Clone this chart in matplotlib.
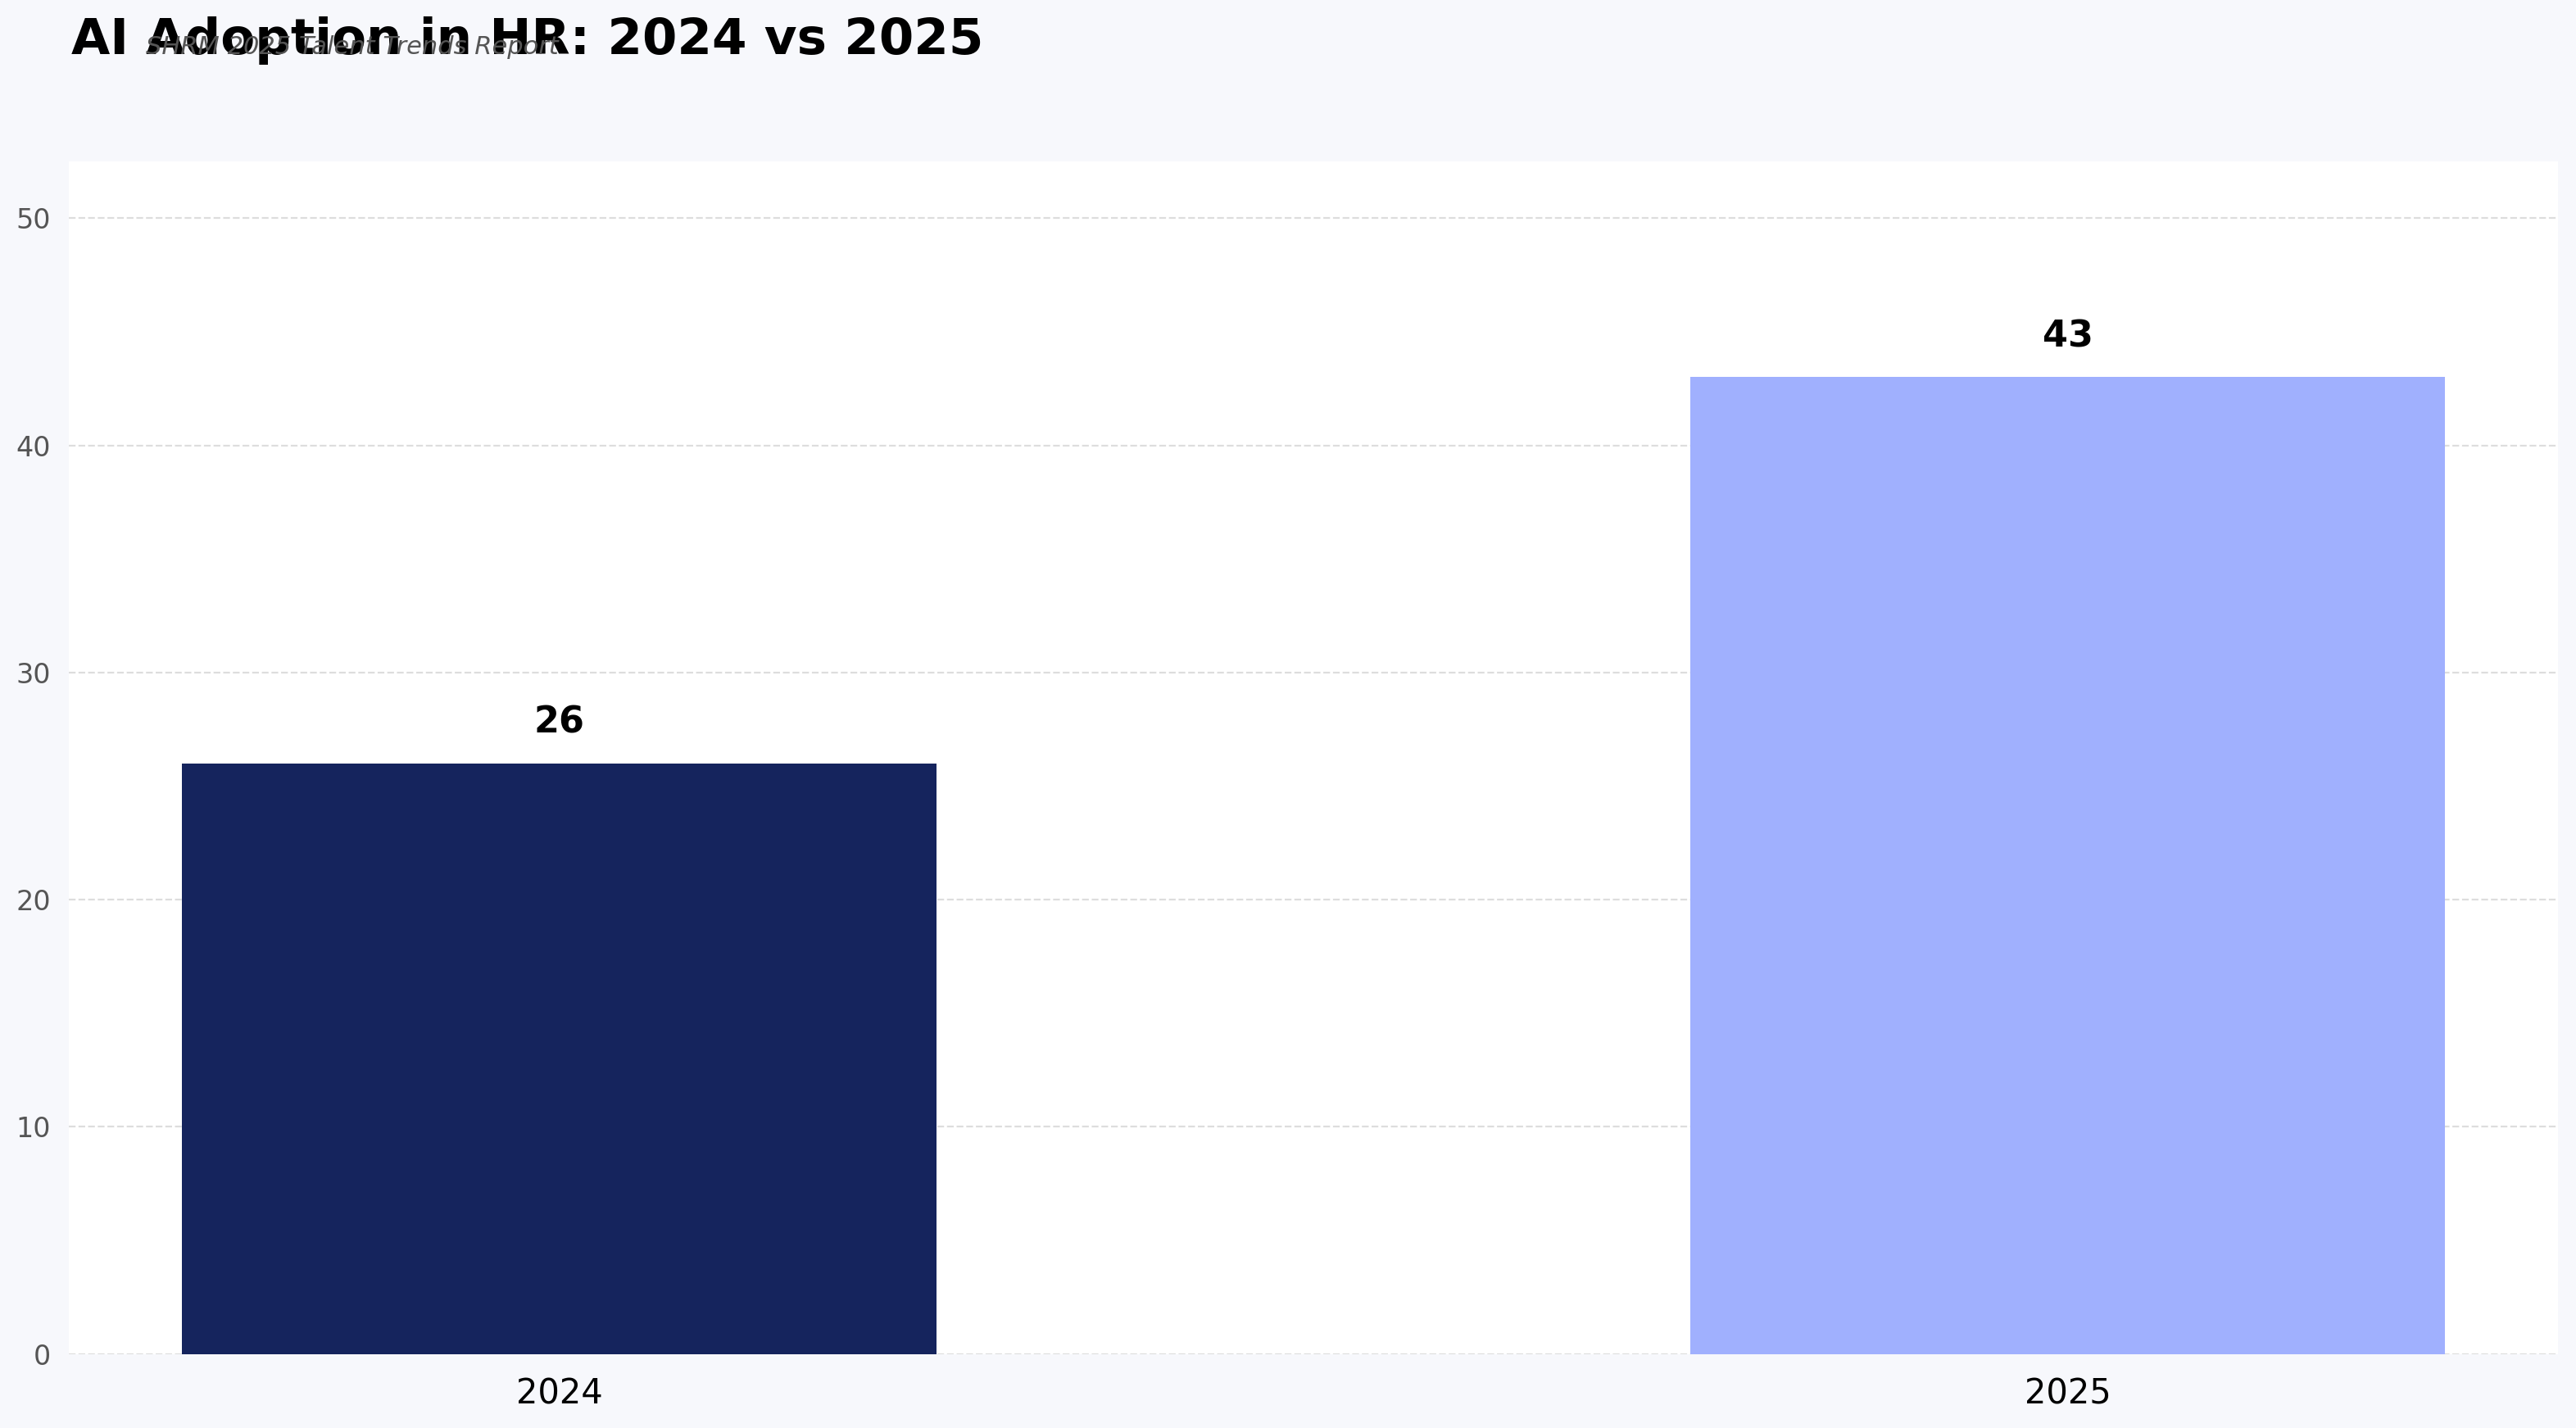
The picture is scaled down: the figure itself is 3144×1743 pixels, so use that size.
import matplotlib
matplotlib.use("Agg")
import matplotlib.pyplot as plt

# data
years = ["2024", "2025"]
adoption = [26, 43]
bar_colors = ["#15245d", "#a0b0fe"]

title = "AI Adoption in HR: 2024 vs 2025"
subtitle = "SHRM 2025 Talent Trends Report"

fig = plt.figure(figsize=(15.72, 8.715), dpi=200)
fig.patch.set_facecolor("#f7f8fc")
ax = fig.add_axes([0.0268, 0.0518, 0.9662, 0.8352])
ax.set_facecolor("white")

x = list(range(len(years)))
bars = ax.bar(x, adoption, width=0.5, color=bar_colors, zorder=3)

for xi, v in zip(x, adoption):
	ax.annotate(str(v), (xi, v), xytext=(0, 10), textcoords="offset points",
		ha="center", va="bottom", fontsize=16, fontweight="bold", color="black")

ax.set_xticks(x)
ax.set_xticklabels(years, fontsize=15)
ax.set_ylim(0, 52.5)
ax.set_yticks(range(0, 51, 10))
ax.tick_params(axis="y", labelsize=12, labelcolor="#555555", length=0, pad=8)
ax.tick_params(axis="x", length=0, pad=10)
ax.grid(axis="y", linestyle="--", color="#dddddd", linewidth=0.8, zorder=0)
for s in ax.spines.values():
	s.set_visible(False)

fig.text(0.0277, 0.962, title, fontsize=22, fontweight="bold", va="baseline", ha="left")
fig.text(0.0567, 0.962, subtitle, fontsize=11, style="italic", color="#555555", va="baseline", ha="left")

fig.savefig("out.png", dpi=200, facecolor=fig.get_facecolor())
